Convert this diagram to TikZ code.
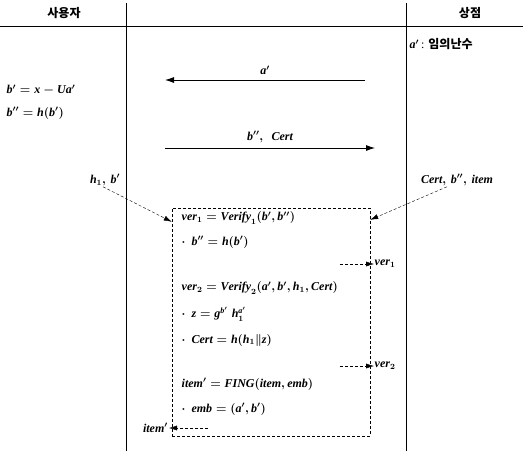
\documentclass[tikz,border=0pt]{standalone}
\usepackage{amsmath,amssymb}
\usepackage{fontspec}
\setmainfont{Liberation Serif}
\newfontfamily\kor{Noto Sans CJK KR}
\usepackage{tikz}
\usetikzlibrary{arrows.meta,positioning}
\newcommand{\vi}[1]{\mathit{#1}}

\begin{document}
\begin{tikzpicture}[x=1pt, y=-1pt,
  rule/.style  = {line width=0.8pt},
  msg/.style   = {-{Latex[length=9pt,width=6pt]}, thick},
  feed/.style  = {-{Latex[length=8pt,width=5pt]}, densely dashed, thin},
  hdr/.style   = {font=\kor\bfseries\fontsize{12}{14}\selectfont, inner sep=1pt},
  eq/.style    = {font=\fontsize{12}{14}\selectfont\boldmath, anchor=west, inner sep=0.5pt},
  lab/.style   = {font=\fontsize{12}{14}\selectfont\boldmath, inner sep=1pt},
  frame/.style = {draw, densely dashed, thin, minimum width=198pt, minimum height=228pt}
]
\useasboundingbox (0,0) rectangle (523,451);

%% ---- lanes ---------------------------------------------------------
\draw[rule] (0,26) -- (523,26);
\draw[rule] (126,3) -- (126,451);
\draw[rule] (406,3) -- (406,451);
\node[hdr] (user) at (64,13) {사용자};
\node[hdr] (shop) at (470,13) {상점};

%% ---- messages ------------------------------------------------------
\node[eq] (rnd) at (409,44) {$\vi{a}'$\,: {\kor\bfseries\fontsize{12}{14}\selectfont 임의난수}};
\node[eq] (bx) at (6,90) {$\vi{b}' = \vi{x} - \vi{Ua}'$};
\node[eq] (bh) at (6,113) {$\vi{b}'' = \vi{h}(\vi{b}')$};

\coordinate (ashop) at (365,80);
\coordinate (auser) at (165,80);
\draw[msg] (ashop) -- node[lab, above=4pt] {$\vi{a}'$} (auser);

\coordinate (buser) at (165,148);
\coordinate (bshop) at (375,148);
\draw[msg] (buser) -- node[lab, above=4pt] {$\vi{b}'',\ \ \vi{Cert}$} (bshop);

%% ---- verification box ----------------------------------------------
\node[frame] (box) at (271,322) {};

\node[lab] (hb) at (105,180) {$\vi{h}_1,\,\vi{b}'$};
\node[lab] (cb) at (457,180) {$\vi{Cert},\,\vi{b}'',\,\vi{item}$};
\draw[feed] ([xshift=-2pt]hb.south) -- ([yshift=-14pt]box.north west);
\draw[feed] ([xshift=-10pt]cb.south) -- ([yshift=-12pt]box.north east);

\node[eq] (l1) at (181,218) {$\vi{ver}_1 = \vi{Verify}_1(\vi{b}',\vi{b}'')$};
\node[eq] (l2) at (181,242) {$\cdot\ \ \vi{b}'' = \vi{h}(\vi{b}')$};
\node[eq] (l3) at (181,288) {$\vi{ver}_2 = \vi{Verify}_2(\vi{a}',\vi{b}',\vi{h}_1,\vi{Cert})$};
\node[eq] (l4) at (181,314) {$\cdot\ \ \vi{z} = \vi{g}^{\vi{b}'}\;\vi{h}_1^{\vi{a}'}$};
\node[eq] (l5) at (181,340) {$\cdot\ \ \vi{Cert} = \vi{h}(\vi{h}_1\|\vi{z})$};
\node[eq] (l6) at (181,384) {$\vi{item}' = \vi{FING}(\vi{item},\vi{emb})$};
\node[eq] (l7) at (181,409) {$\cdot\ \ \vi{emb} = (\vi{a}',\vi{b}')$};

%% ---- outputs -------------------------------------------------------
\node[eq] (v1) at (374,264) {$\vi{ver}_1$};
\node[eq] (v2) at (374,366) {$\vi{ver}_2$};
\node[lab, anchor=east] (it) at (169,428) {$\vi{item}'$};
\coordinate (v1s) at (340,264);
\coordinate (v2s) at (340,366);
\coordinate (its) at (208,428);
\draw[feed] (v1s) -- (v1.west);
\draw[feed] (v2s) -- (v2.west);
\draw[feed] (its) -- (it.east);
\end{tikzpicture}
\end{document}
